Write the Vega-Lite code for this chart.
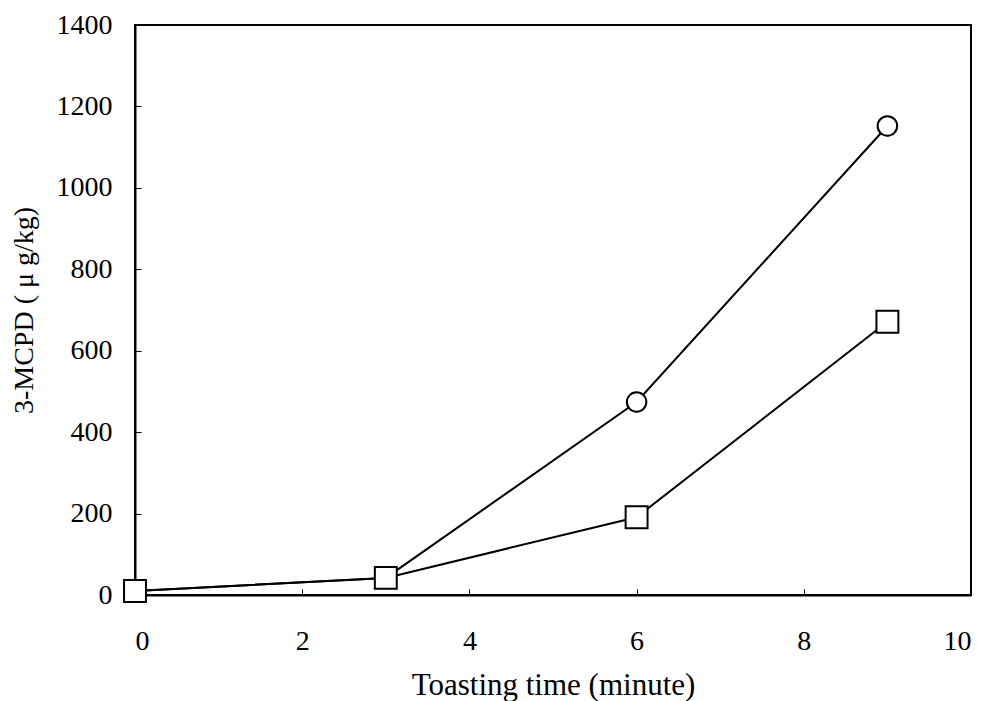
{
  "$schema": "https://vega.github.io/schema/vega-lite/v6.json",
  "autosize": "none",
  "width": 836,
  "height": 570,
  "padding": {"left": 135, "top": 25, "right": 18, "bottom": 106},
  "background": "white",
  "config": {
    "view": {"stroke": "black", "strokeWidth": 2},
    "axis": {
      "labelFont": "Liberation Serif",
      "titleFont": "Liberation Serif",
      "labelFontSize": 28,
      "titleFontSize": 29,
      "labelColor": "black",
      "titleColor": "black",
      "titleFontWeight": "normal",
      "domainColor": "black",
      "domainWidth": 2,
      "tickColor": "black",
      "tickWidth": 1,
      "tickSize": -6,
      "grid": false
    }
  },
  "data": {
    "values": [
      {"time": 0, "mcpd": 10, "series": "A"},
      {"time": 3, "mcpd": 42, "series": "A"},
      {"time": 6, "mcpd": 474, "series": "A"},
      {"time": 9, "mcpd": 1152, "series": "A"},
      {"time": 0, "mcpd": 10, "series": "B"},
      {"time": 3, "mcpd": 42, "series": "B"},
      {"time": 6, "mcpd": 191, "series": "B"},
      {"time": 9, "mcpd": 671, "series": "B"}
    ]
  },
  "encoding": {
    "x": {
      "field": "time", "type": "quantitative",
      "scale": {"domain": [0, 10], "nice": false},
      "axis": {"values": [0, 2, 4, 6, 8, 10], "format": "d", "title": "Toasting time (minute)", "titleFontSize": 31, "labelPadding": 38, "titlePadding": 15}
    },
    "y": {
      "field": "mcpd", "type": "quantitative",
      "scale": {"domain": [0, 1400], "nice": false},
      "axis": {"values": [0, 200, 400, 600, 800, 1000, 1200, 1400], "format": "d", "title": "3-MCPD ( μ g/kg)", "titleFontSize": 28, "labelPadding": 29, "titlePadding": 18}
    }
  },
  "layer": [
    {
      "mark": {"type": "line", "color": "black", "strokeWidth": 2},
      "encoding": {"detail": {"field": "series"}}
    },
    {
      "mark": {"type": "point", "filled": true, "fill": "white", "stroke": "black", "strokeWidth": 2, "opacity": 1},
      "encoding": {
        "shape": {"field": "series", "type": "nominal", "scale": {"domain": ["A", "B"], "range": ["circle", "square"]}, "legend": null},
        "size": {"field": "series", "type": "nominal", "scale": {"domain": ["A", "B"], "range": [380, 480]}, "legend": null}
      }
    }
  ]
}
